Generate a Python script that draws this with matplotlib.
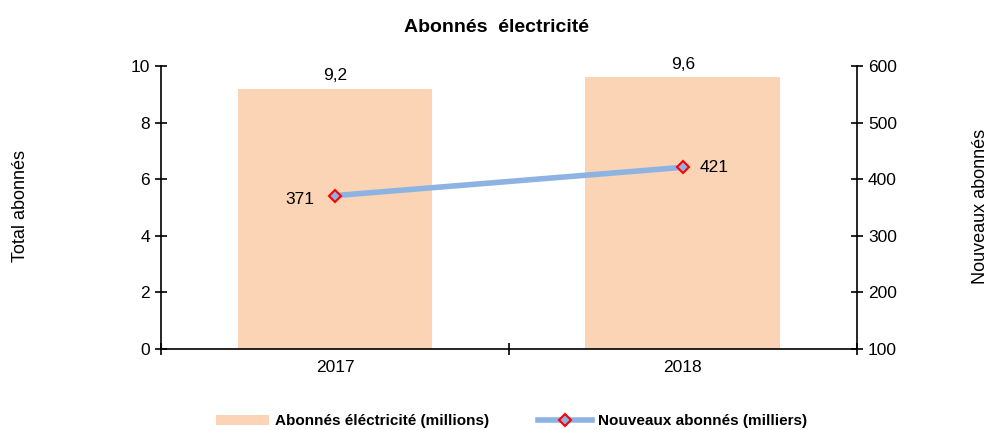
import matplotlib.pyplot as plt
import numpy as np

years = ['2017', '2018']
total_abonnes = [9.2, 9.6]          # millions
nouveaux_abonnes = [371, 421]       # milliers
total_labels = ['9,2', '9,6']

plt.rcParams['font.family'] = ['Liberation Sans', 'DejaVu Sans']

fig = plt.figure(figsize=(9.94, 4.3), dpi=100)
ax1 = fig.add_axes([0.162, 0.1884, 0.7, 0.6581])
ax2 = ax1.twinx()

x = np.arange(len(years))
bars = ax1.bar(x, total_abonnes, width=0.56, color='#FAD4B4', zorder=1,
               label='Abonnés éléctricité (millions)')
ax1.set_xlim(-0.5, len(years) - 0.5)
ax1.set_ylim(0, 10)
ax1.set_yticks(range(0, 11, 2))
for xi, v, lab in zip(x, total_abonnes, total_labels):
    ax1.text(xi, v + 0.2, lab, ha='center', va='bottom', fontsize=12.5)

line, = ax2.plot(x, nouveaux_abonnes, color='#8DB3E2', lw=4, marker='D',
                 markersize=6, markerfacecolor='#8DB3E2', markeredgecolor='red',
                 markeredgewidth=1.5, label='Nouveaux abonnés (milliers)')
ax2.set_ylim(100, 600)
ax2.set_yticks(range(100, 601, 100))
ax2.annotate(str(nouveaux_abonnes[0]), (x[0], nouveaux_abonnes[0]), xytext=(-15, -3),
             textcoords='offset points', ha='right', va='center', fontsize=12.5)
ax2.annotate(str(nouveaux_abonnes[1]), (x[1], nouveaux_abonnes[1]), xytext=(12, 0),
             textcoords='offset points', ha='left', va='center', fontsize=12.5)

# x ticks at category boundaries, labels at centers
ax1.set_xticks([-0.5, 0.5, 1.5])
ax1.set_xticklabels([])
ax1.set_xticks(x, minor=True)
ax1.set_xticklabels(years, minor=True, fontsize=12.5)
ax1.tick_params(axis='x', which='minor', length=0, pad=8)
ax1.tick_params(axis='x', which='major', direction='inout', length=8, width=1.2)
ax1.tick_params(axis='y', direction='inout', length=8, width=1.2, labelsize=12.5, pad=4)
ax2.tick_params(axis='y', direction='inout', length=8, width=1.2, labelsize=12.5, pad=4)

for ax in (ax1, ax2):
    ax.spines['top'].set_visible(False)
    for s in ('left', 'right', 'bottom'):
        ax.spines[s].set_linewidth(1.2)
ax1.spines['right'].set_visible(False)
ax2.spines['left'].set_visible(False)
ax2.spines['bottom'].set_visible(False)

fig.text(0.012, 0.52, 'Total abonnés', rotation=90, ha='left', va='center', fontsize=13)
fig.text(0.995, 0.52, 'Nouveaux abonnés', rotation=90, ha='right', va='center', fontsize=13)
fig.text(0.5, 0.937, 'Abonnés  électricité', ha='center', va='center',
         fontsize=14, fontweight='bold')

fig.legend([bars, line], ['Abonnés éléctricité (millions)', 'Nouveaux abonnés (milliers)'],
           loc='center', bbox_to_anchor=(0.5146, 0.02), ncol=2, frameon=False,
           prop={'weight': 'bold', 'size': 11}, handlelength=3.5, columnspacing=3.2,
           handletextpad=0.4, borderpad=0.2)

fig.savefig('out.png', dpi=100)
